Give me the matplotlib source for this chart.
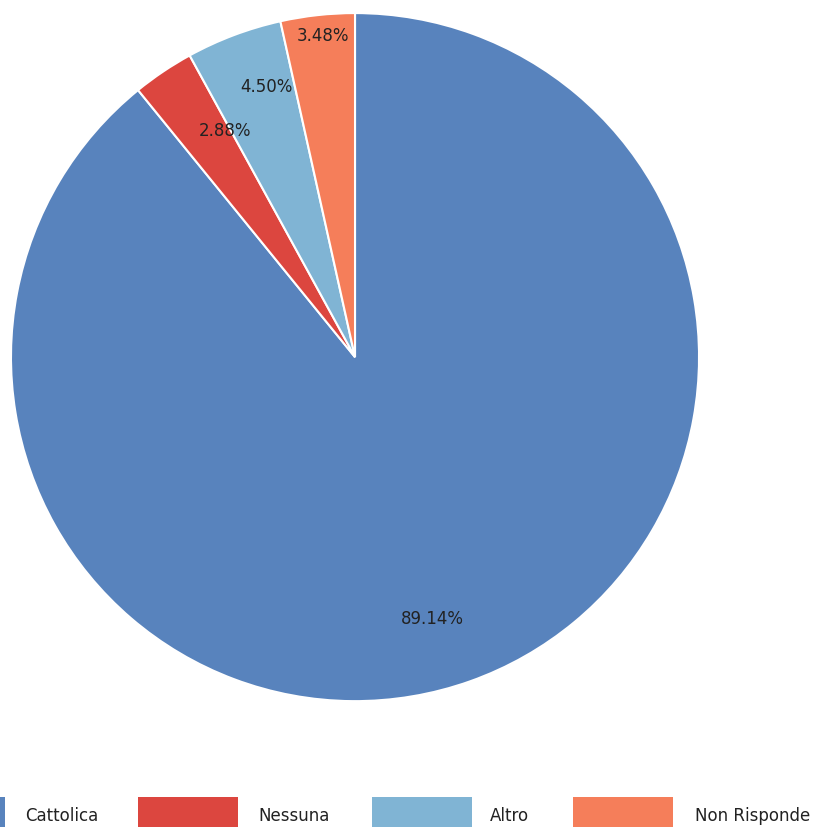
import numpy as np
import matplotlib
matplotlib.use("Agg")
from matplotlib import pyplot as plt
from matplotlib.patches import Rectangle

# Data
labels = ["Cattolica", "Nessuna", "Altro", "Non Risponde"]
values = [89.14, 2.88, 4.50, 3.48]
colors = ["#5883BD", "#DC463F", "#80B4D4", "#F57E5A"]
# where each % label sits: fraction of radius, angle shift (deg)
label_radius = [0.79, 0.76, 0.83, 0.94]
label_shift = [-3.0, -4.0, -2.5, -0.5]

plt.rcParams['font.family'] = ['DejaVu Sans']

fig = plt.figure(figsize=(8.26, 8.28), dpi=100)
ax = fig.add_axes([0.0133, 0.152, 0.833, 0.831])

wedges, _ = ax.pie(values, colors=colors, startangle=90, counterclock=False,
                   radius=1.0, wedgeprops=dict(edgecolor="white", linewidth=1.5))

# percentage labels
for w, v, r, s in zip(wedges, values, label_radius, label_shift):
    ang = np.deg2rad((w.theta1 + w.theta2) / 2 + s)
    ax.text(r * np.cos(ang), r * np.sin(ang), f"{v:.2f}%",
            ha="center", va="center", fontsize=12, color="#222222")

ax.set_xlim(-1, 1)
ax.set_ylim(-1, 1)
ax.set_aspect("equal")
ax.axis("off")

# legend at the bottom (cut off at the figure edges like the original)
W, H = 826.0, 828.0
rect_x = [-95, 138, 372, 573]
text_x = [25, 258, 490, 695]
for lab, col, rx, tx in zip(labels, colors, rect_x, text_x):
    fig.patches.append(Rectangle((rx / W, (H - 840) / H), 100 / W, 42 / H,
                                 transform=fig.transFigure, facecolor=col,
                                 edgecolor="none"))
    fig.text(tx / W, (H - 816) / H, lab, ha="left", va="center",
             fontsize=12, color="#222222")

fig.savefig("out.png", dpi=100)
